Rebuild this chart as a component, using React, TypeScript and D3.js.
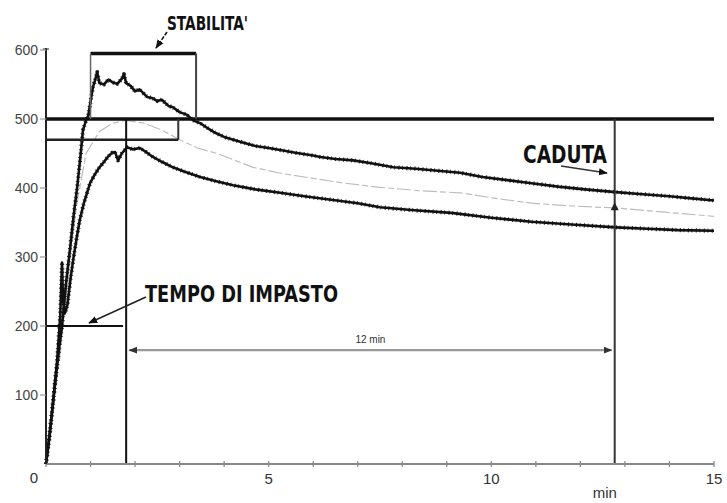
import React from "react";
import * as d3 from "d3";

// curve readings (minutes, units)
const upperT = [0, 0.1, 0.2, 0.3, 0.36, 0.45, 0.54, 0.62, 0.7, 0.78, 0.83, 0.9, 0.95, 1.0, 1.05, 1.1, 1.15, 1.2, 1.3, 1.4, 1.5, 1.6, 1.7, 1.75, 1.8, 1.9, 2.0, 2.1, 2.27, 2.4, 2.5, 2.6, 2.75, 2.85, 3.0, 3.17, 3.3, 3.46, 3.6, 3.8, 4.0, 4.36, 4.7, 5.0, 5.26, 5.6, 6.0, 6.16, 6.5, 6.9, 7.3, 7.8, 8.3, 8.8, 9.3, 9.8, 10.4, 10.9, 11.5, 12.1, 12.8, 13.4, 14.0, 14.5, 15.0];
const upperV = [0, 55, 115, 170, 200, 262, 312, 360, 401, 450, 484, 498, 505, 525, 545, 556, 568, 552, 550, 557, 553, 551, 558, 565, 552, 548, 540, 543, 532, 530, 526, 528, 519, 517, 510, 506, 498, 494, 488, 480, 474, 467, 461, 458, 455, 451, 447, 445, 442, 440, 436, 430, 428, 425, 422, 416, 411, 407, 402, 398, 394, 391, 388, 385, 382];

const lowerT = [0, 0.08, 0.16, 0.25, 0.32, 0.36, 0.38, 0.42, 0.48, 0.55, 0.62, 0.7, 0.76, 0.85, 0.99, 1.1, 1.2, 1.28, 1.4, 1.48, 1.55, 1.62, 1.7, 1.82, 1.95, 2.11, 2.25, 2.4, 2.6, 2.85, 3.1, 3.46, 3.8, 4.2, 4.7, 5.26, 5.8, 6.4, 7.0, 7.5, 8.2, 9.1, 10.0, 10.9, 11.8, 12.8, 13.5, 14.2, 15.0];
const lowerV = [0, 40, 90, 150, 215, 292, 240, 218, 230, 268, 300, 332, 354, 378, 407, 420, 430, 436, 446, 451, 452, 440, 450, 459, 456, 458, 452, 445, 438, 430, 424, 416, 410, 404, 398, 393, 388, 383, 378, 372, 368, 364, 357, 351, 347, 343, 341, 339, 338];

const meanT = [0, 0.3, 0.5, 0.7, 0.9, 1.2, 1.5, 1.8, 2.2, 2.6, 3.0, 3.4, 3.84, 4.65, 5.3, 6.0, 6.7, 7.5, 8.4, 9.3, 10.1, 10.9, 11.8, 12.8, 13.9, 15.0];
const meanV = [0, 150, 280, 380, 450, 482, 494, 498, 494, 484, 470, 458, 450, 430, 421, 414, 407, 401, 396, 393, 385, 378, 374, 371, 365, 359];

// axis ticks
const yTicks = [100, 200, 300, 400, 500, 600];
const xLabels = [5, 10, 15];
const xMinor = d3.range(0, 16);

// annotation readings
const refLevel = 500;
const bandLevel = 470;
const bandEnd = 2.97;
const stabLevel = 595;
const stabStart = 1.0;
const stabEnd = 3.37;
const peakTime = 1.8;
const mixLevel = 200;
const mixEnd = 1.73;
const dropTime = 12.77;
const dropMark = 372;
const spanLevel = 165;
const spanStart = 1.87;
const spanEnd = 12.7;

const labelFont = "'Liberation Sans Narrow', 'DejaVu Sans Condensed', 'Arial Narrow', sans-serif";
const tickFont = "'Liberation Sans', Arial, sans-serif";

export default function App() {
  const W = 727, H = 503;
  const x = d3.scaleLinear().domain([0, 15]).range([46, 714]);
  const y = d3.scaleLinear().domain([0, 600]).range([464, 50]);

  const line = d3.line<[number, number]>()
    .x(d => x(d[0]))
    .y(d => y(d[1]));

  const upper = d3.zip(upperT, upperV) as [number, number][];
  const lower = d3.zip(lowerT, lowerV) as [number, number][];
  const mean = d3.zip(meanT, meanV) as [number, number][];

  // recorded traces look fuzzy, so draw a solid core plus a broken halo
  const trace = (pts: [number, number][], key: string) => (
    <g key={key}>
      <path d={line(pts) || ""} fill="none" stroke="#111" strokeWidth={2.6} strokeLinejoin="round" />
      <path d={line(pts) || ""} fill="none" stroke="#111" strokeWidth={4.2} strokeDasharray="1.2 2.6 0.8 3.4" strokeLinejoin="round" opacity={0.85} />
    </g>
  );

  return (
    <svg width={W} height={H} style={{ position: "absolute", left: 0, top: 0, background: "#fff" }}>
      <defs>
        <marker id="ah" viewBox="0 0 10 10" refX="9" refY="5" markerWidth="6" markerHeight="6" orient="auto-start-reverse">
          <path d="M0,1 L10,5 L0,9 z" fill="#111" />
        </marker>
        <marker id="ahg" viewBox="0 0 10 10" refX="9" refY="5" markerWidth="4" markerHeight="4" orient="auto-start-reverse">
          <path d="M0,1 L10,5 L0,9 z" fill="#333" />
        </marker>
      </defs>

      {/* curves */}
      <path d={line(mean) || ""} fill="none" stroke="#bdbdbd" strokeWidth={1.2} strokeDasharray="14 3 6 3" />
      {trace(lower, "lower")}
      {trace(upper, "upper")}

      {/* 500 reference + band box */}
      <line x1={x(0)} x2={x(15)} y1={y(refLevel)} y2={y(refLevel)} stroke="#111" strokeWidth={3.5} />
      <line x1={x(0)} x2={x(bandEnd)} y1={y(bandLevel)} y2={y(bandLevel)} stroke="#222" strokeWidth={2.5} />
      <line x1={x(bandEnd)} x2={x(bandEnd)} y1={y(refLevel)} y2={y(bandLevel)} stroke="#333" strokeWidth={2} />

      {/* stability box */}
      <line x1={x(stabStart)} x2={x(stabEnd)} y1={y(stabLevel)} y2={y(stabLevel)} stroke="#111" strokeWidth={3.5} />
      <line x1={x(stabStart)} x2={x(stabStart)} y1={y(stabLevel)} y2={y(refLevel)} stroke="#666" strokeWidth={1.5} />
      <line x1={x(stabEnd)} x2={x(stabEnd)} y1={y(stabLevel)} y2={y(refLevel)} stroke="#444" strokeWidth={2} />

      {/* verticals */}
      <line x1={x(peakTime)} x2={x(peakTime)} y1={y(refLevel)} y2={y(0)} stroke="#111" strokeWidth={2} />
      <line x1={x(dropTime)} x2={x(dropTime)} y1={y(refLevel)} y2={y(0)} stroke="#333" strokeWidth={2} />

      {/* mixing time line */}
      <line x1={x(0)} x2={x(mixEnd)} y1={y(mixLevel)} y2={y(mixLevel)} stroke="#111" strokeWidth={2.2} />

      {/* 12 min span */}
      <line x1={x(spanStart)} x2={x(spanEnd)} y1={y(spanLevel)} y2={y(spanLevel)} stroke="#999" strokeWidth={2.2}
        markerStart="url(#ahg)" markerEnd="url(#ahg)" />
      <text x={x((spanStart + spanEnd) / 2)} y={y(spanLevel) - 7} fontFamily={tickFont} fontSize={10} fill="#333" textAnchor="middle">12 min</text>

      {/* drop marker */}
      <path d={`M${x(dropTime) - 4},${y(dropMark) + 3} L${x(dropTime) + 4},${y(dropMark) + 3} L${x(dropTime)},${y(dropMark) - 5} z`} fill="#222" />

      {/* axes */}
      <line x1={x(0)} x2={x(15)} y1={y(0)} y2={y(0)} stroke="#888" strokeWidth={2} />
      {xMinor.map(t => (
        <line key={t} x1={x(t)} x2={x(t)} y1={y(0) - 3} y2={y(0) + 3} stroke="#888" strokeWidth={1.2} />
      ))}
      <line x1={x(0)} x2={x(0)} y1={y(0)} y2={y(600) - 2} stroke="#222" strokeWidth={2} />
      <line x1={x(0) - 3} x2={x(0) + 3} y1={y(600) - 1} y2={y(600) - 1} stroke="#444" strokeWidth={1.2} />
      {yTicks.map(v => (
        <g key={v}>
          <line x1={x(0) - 6} x2={x(0)} y1={y(v)} y2={y(v)} stroke="#999" strokeWidth={1.2} />
          <text x={x(0) - 8} y={y(v)} dy="0.35em" fontFamily={tickFont} fontSize={14} fill="#444" textAnchor="end">{v}</text>
        </g>
      ))}
      <text x={x(0) - 12} y={y(0) + 19} fontFamily={tickFont} fontSize={15} fill="#333" textAnchor="middle">0</text>
      {xLabels.map(t => (
        <text key={t} x={x(t)} y={y(0) + 20} fontFamily={tickFont} fontSize={15} fill="#333" textAnchor="middle">{t}</text>
      ))}
      <text x={x(12.55)} y={y(0) + 34} fontFamily={tickFont} fontSize={15} fill="#333" textAnchor="middle">min</text>

      {/* labels */}
      <text x={167} y={30} fontFamily={labelFont} fontWeight="bold" fontSize={20} fill="#111" textLength={81} lengthAdjust="spacingAndGlyphs">STABILITA'</text>
      <line x1={167} y1={32} x2={156} y2={48} stroke="#111" strokeWidth={1.5} strokeDasharray="4 1.5" markerEnd="url(#ah)" />

      <text x={145} y={302} fontFamily={labelFont} fontWeight="bold" fontSize={23} fill="#111" textLength={193} lengthAdjust="spacingAndGlyphs">TEMPO DI IMPASTO</text>
      <line x1={146} y1={297} x2={89} y2={323} stroke="#222" strokeWidth={1.5} markerEnd="url(#ah)" />

      <text x={523} y={163} fontFamily={labelFont} fontWeight="bold" fontSize={24} fill="#111" textLength={84} lengthAdjust="spacingAndGlyphs">CADUTA</text>
      <line x1={561} y1={166} x2={607} y2={173} stroke="#333" strokeWidth={1.5} markerEnd="url(#ah)" />
    </svg>
  );
}
